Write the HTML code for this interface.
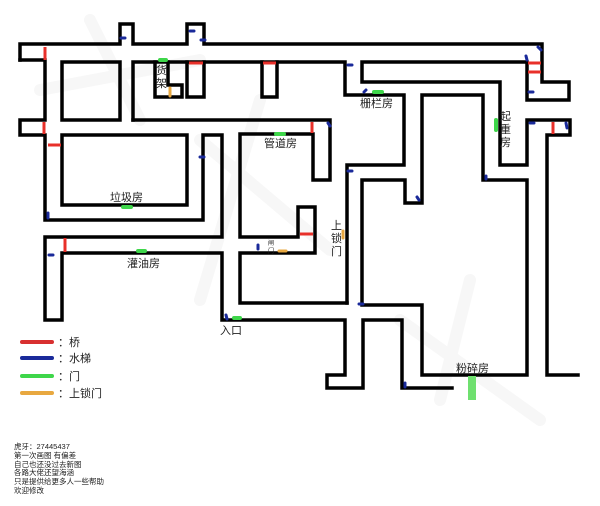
<!DOCTYPE html>
<html><head><meta charset="utf-8"><style>
html,body{margin:0;padding:0;background:#fff;}
svg{display:block;}
text{font-family:"Liberation Sans","Noto Sans CJK SC",sans-serif;fill:#222;}
</style></head><body>
<svg width="600" height="506" viewBox="0 0 600 506" xmlns="http://www.w3.org/2000/svg">
<g stroke="#f7f7f7" stroke-width="12" fill="none" stroke-linecap="round">
<path d="M90 20 L140 120 M40 90 L200 60 M200 140 L330 250 M260 100 L200 300 M400 320 L540 420 M470 280 L440 400"/>
</g>
<g stroke="#000" stroke-width="3.5" fill="none" stroke-linejoin="miter" stroke-linecap="square">
<polyline points="20,60 20,44 120,44 120,24 133,24 133,44 187,44 187,24 204,24 204,44 542,44 542,82 569,82 569,100 527,100 527,62 362,62 362,82 500,82 500,165 527,165 527,120 570,120 570,135 547,135 547,375 578,375"/>
<polyline points="20,60 45,60 45,120 20,120 20,135 45,135 45,220 203,220 203,135 222,135 222,237 45,237 45,320 62,320 62,253 222,253 222,320 345,320 345,375 327,375 327,388 363,388 363,320 402,320 402,388 452,388"/>
<rect x="62" y="62" width="58" height="58"/>
<rect x="62" y="135" width="125" height="70"/>
<polyline points="133,120 133,62 345,62 345,95 404,95 404,165 347,165 347,303"/>
<polyline points="133,120 330,120 330,180 313,180 313,134 240,134 240,237 298,237 298,207 315,207 315,253 240,253 240,303 347,303"/>
<polyline points="155,62 155,97 182,97 182,85 168,85 168,62"/>
<polyline points="187,62 187,97 204,97 204,62"/>
<polyline points="262,62 262,97 277,97 277,62"/>
<polyline points="422,375 527,375 527,180 483,180 483,95 422,95 422,203 405,203 405,180 362,180 362,305 422,305 422,375"/>
</g>
<g stroke="#e8302a" stroke-width="3" stroke-linecap="butt">
<line x1="45" y1="47" x2="45" y2="60"/><line x1="44" y1="122" x2="44" y2="134"/>
<line x1="48" y1="145" x2="61" y2="145"/><line x1="65" y1="238" x2="65" y2="252"/>
<line x1="189" y1="63" x2="203" y2="63"/><line x1="263" y1="63" x2="276" y2="63"/>
<line x1="312" y1="122" x2="312" y2="133"/><line x1="300" y1="234" x2="313" y2="234"/>
<line x1="528" y1="63" x2="541" y2="63"/><line x1="528" y1="72" x2="541" y2="72"/>
<line x1="553" y1="122" x2="553" y2="134"/>
</g>
<g stroke="#1a2a9a" stroke-width="3" stroke-linecap="round">
<line x1="121" y1="38" x2="125" y2="38"/><line x1="190" y1="31" x2="194" y2="31"/><line x1="201" y1="40" x2="205" y2="40"/>
<line x1="348" y1="65" x2="352" y2="65"/><line x1="364" y1="92" x2="366" y2="90"/><line x1="328" y1="123" x2="330" y2="126"/>
<line x1="538" y1="47" x2="541" y2="50"/><line x1="526" y1="56" x2="527" y2="60"/><line x1="529" y1="92" x2="533" y2="92"/>
<line x1="530" y1="123" x2="534" y2="123"/><line x1="566" y1="123" x2="567" y2="128"/><line x1="348" y1="171" x2="352" y2="171"/>
<line x1="417" y1="197" x2="419" y2="200"/><line x1="486" y1="176" x2="486" y2="179"/><line x1="200" y1="157" x2="204" y2="157"/>
<line x1="48" y1="213" x2="48" y2="218"/><line x1="49" y1="255" x2="53" y2="255"/><line x1="226" y1="315" x2="227" y2="319"/>
<line x1="258" y1="245" x2="258" y2="249"/><line x1="359" y1="304" x2="363" y2="304"/><line x1="405" y1="383" x2="405" y2="387"/>
</g>
<g stroke="#3ed64a" stroke-width="4" stroke-linecap="round">
<line x1="160" y1="60" x2="166" y2="60"/><line x1="276" y1="134" x2="284" y2="134"/><line x1="374" y1="92" x2="382" y2="92"/>
<line x1="496" y1="120" x2="496" y2="130"/><line x1="123" y1="207" x2="131" y2="207"/><line x1="138" y1="251" x2="145" y2="251"/>
<line x1="234" y1="318" x2="240" y2="318"/>
</g>
<rect x="468" y="376" width="8" height="24" fill="#6fe06f"/>
<g stroke="#e8a840" stroke-width="3" stroke-linecap="round">
<line x1="170" y1="88" x2="170" y2="96"/><line x1="279" y1="251" x2="286" y2="251"/><line x1="343" y1="231" x2="343" y2="238"/>
</g>
<g font-size="11">
<text x="156" y="74">货</text><text x="156" y="87">架</text>
<text x="264" y="147">管道房</text><text x="360" y="107">栅栏房</text>
<text x="500" y="120">起</text><text x="500" y="133">重</text><text x="500" y="146">房</text>
<text x="110" y="201">垃圾房</text><text x="127" y="267">灌油房</text><text x="220" y="334">入口</text>
<text x="331" y="229">上</text><text x="331" y="242">锁</text><text x="331" y="255">门</text>
<text x="456" y="372">粉碎房</text>
<text x="268" y="245" font-size="6">闸</text><text x="268" y="253" font-size="6">门</text>
</g>
<g stroke-width="4" stroke-linecap="round">
<line x1="22" y1="342" x2="52" y2="342" stroke="#d83030"/>
<line x1="22" y1="358" x2="52" y2="358" stroke="#1a2a9a"/>
<line x1="22" y1="376" x2="52" y2="376" stroke="#3ed64a"/>
<line x1="22" y1="393" x2="52" y2="393" stroke="#e8a840"/>
</g>
<g font-size="11">
<text x="58" y="346">：桥</text><text x="58" y="362">：水梯</text><text x="58" y="380">：门</text><text x="58" y="397">：上锁门</text>
</g>
<g font-size="7.5" fill="#333">
<text x="14" y="449">虎牙：27445437</text>
<text x="14" y="458">第一次画图 有偏差</text>
<text x="14" y="467">自己也还没过去新图</text>
<text x="14" y="475">各路大佬还望海涵</text>
<text x="14" y="484">只是提供给更多人一些帮助</text>
<text x="14" y="493">欢迎修改</text>
</g>
</svg>
</body></html>
